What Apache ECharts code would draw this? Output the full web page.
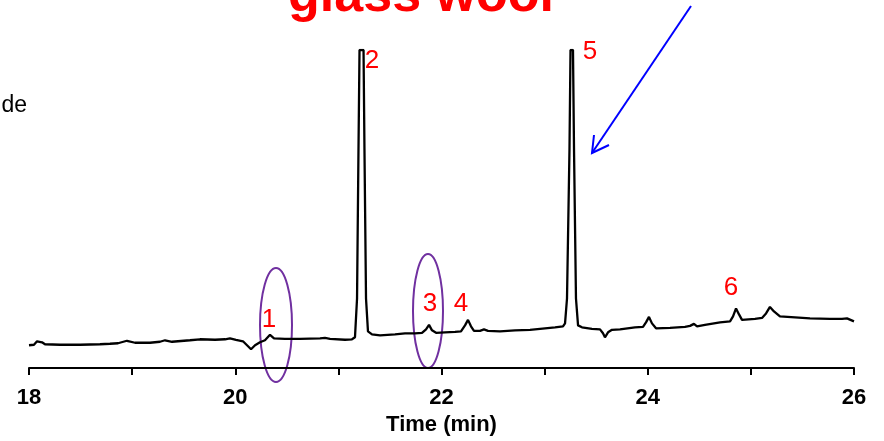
<!DOCTYPE html>
<html>
<head>
<meta charset="utf-8">
<title>glass wool chromatogram</title>
<script src="https://cdn.jsdelivr.net/npm/echarts@6/dist/echarts.min.js"></script>
<style>
  html, body { margin: 0; padding: 0; background: #fff; }
  #chart { width: 884px; height: 441px; }
</style>
</head>
<body>
<div id="chart"></div>
<script>
// retention time (min)
var times = [18.000, 18.048, 18.078, 18.097, 18.126, 18.155, 18.301, 18.495, 18.688, 18.785,
    18.863, 18.950, 19.028, 19.173, 19.270, 19.319, 19.387, 19.561, 19.658, 19.804,
    19.901, 19.949, 20.007, 20.075, 20.124, 20.153, 20.192, 20.240, 20.288, 20.337,
    20.376, 20.482, 20.628, 20.822, 20.870, 20.919, 21.064, 21.132, 21.161, 21.181,
    21.195, 21.205, 21.244, 21.253, 21.268, 21.287, 21.326, 21.404, 21.549, 21.646,
    21.743, 21.811, 21.850, 21.879, 21.908, 21.947, 22.034, 22.131, 22.189, 22.228,
    22.257, 22.286, 22.315, 22.373, 22.412, 22.451, 22.567, 22.713, 22.858, 23.004,
    23.101, 23.178, 23.198, 23.217, 23.241, 23.251, 23.275, 23.285, 23.304, 23.324,
    23.362, 23.459, 23.537, 23.566, 23.585, 23.615, 23.653, 23.731, 23.876, 23.954,
    23.983, 24.012, 24.041, 24.080, 24.216, 24.361, 24.410, 24.448, 24.478, 24.555,
    24.701, 24.798, 24.827, 24.856, 24.885, 24.914, 25.040, 25.108, 25.147, 25.185,
    25.224, 25.282, 25.428, 25.573, 25.767, 25.884, 25.932, 26.000];

// detector signal (arbitrary units, big peaks are off scale)
var signal = [23, 23.5, 27, 29, 26, 24, 23.5, 23.5, 24, 24.5,
    25, 27.5, 25.5, 25.5, 26.5, 28, 26.5, 28, 29, 28.5,
    29, 30, 28.5, 27, 22, 19, 23, 26, 28, 33.5,
    30, 29.5, 29.5, 30, 30.5, 29.5, 28.5, 29, 31, 70,
    220, 320, 320, 220, 70, 37, 34, 33, 34, 35,
    35, 35.5, 39, 43.5, 38, 35.5, 36, 36.5, 37, 43,
    48.5, 42, 37.5, 37.5, 39, 37.5, 37, 38, 38.5, 40,
    41, 42, 45, 70, 220, 320, 320, 220, 70, 43,
    41, 39.5, 39, 35, 31, 36, 38.5, 39, 41, 41.5,
    46, 51.5, 45, 40, 40.5, 41.5, 42.5, 44.5, 42, 43.5,
    46, 47, 52, 60, 54, 48.5, 49.5, 50.5, 55, 61.5,
    57, 52, 51, 50, 49.5, 49.5, 50, 47];

var peakLabels = ['1', '2', '3', '4', '5', '6'];

var fontFamily = '"Liberation Sans", Arial, Helvetica, sans-serif';

var chart = echarts.init(document.getElementById('chart'));

function redLabel(text, x, y) {
    return {
        type: 'text',
        x: x,
        y: y,
        style: {
            text: text,
            fill: '#ff0000',
            font: '26px ' + fontFamily,
            textAlign: 'center',
            textVerticalAlign: 'middle'
        }
    };
}

var option = {
    animation: false,
    backgroundColor: '#fff',
    grid: {
        left: 29,
        right: 30,
        top: 50,
        bottom: 71
    },
    xAxis: {
        type: 'value',
        min: 18,
        max: 26,
        interval: 1,
        name: 'Time (min)',
        nameLocation: 'middle',
        nameGap: 44,
        nameTextStyle: {
            color: '#000',
            fontSize: 22,
            fontWeight: 'bold',
            fontFamily: fontFamily
        },
        axisLine: {
            lineStyle: { color: '#000', width: 2 }
        },
        axisTick: {
            length: 7,
            lineStyle: { color: '#000', width: 2 }
        },
        axisLabel: {
            color: '#000',
            fontSize: 22,
            fontWeight: 'bold',
            fontFamily: fontFamily,
            margin: 19,
            formatter: function (v) {
                return v % 2 === 0 ? String(v) : '';
            }
        },
        splitLine: { show: false }
    },
    yAxis: {
        type: 'value',
        show: false,
        min: 0,
        max: 320
    },
    series: [{
        type: 'line',
        showSymbol: false,
        symbol: 'none',
        lineStyle: { color: '#000', width: 2.3 },
        data: times.map(function (t, i) {
            return [t, signal[i]];
        })
    }],
    graphic: [
        {
            type: 'text',
            x: 421,
            y: -3,
            style: {
                text: 'glass wool',
                fill: '#ff0000',
                font: 'bold 52px ' + fontFamily,
                textAlign: 'center',
                textVerticalAlign: 'middle'
            }
        },
        {
            type: 'text',
            x: 27,
            y: 106,
            style: {
                text: 'de',
                fill: '#000',
                font: '23px ' + fontFamily,
                textAlign: 'right',
                textVerticalAlign: 'middle'
            }
        },
        redLabel(peakLabels[0], 269, 320),
        redLabel(peakLabels[1], 372, 61),
        redLabel(peakLabels[2], 430, 304),
        redLabel(peakLabels[3], 461, 304),
        redLabel(peakLabels[4], 590, 52),
        redLabel(peakLabels[5], 731, 288),
        {
            type: 'ellipse',
            shape: { cx: 276, cy: 325, rx: 16, ry: 57 },
            style: { fill: null, stroke: '#7030a0', lineWidth: 2 }
        },
        {
            type: 'ellipse',
            shape: { cx: 428, cy: 311, rx: 15, ry: 57 },
            style: { fill: null, stroke: '#7030a0', lineWidth: 2 }
        },
        {
            type: 'polyline',
            shape: { points: [[691, 6], [592, 153]] },
            style: { stroke: '#0000ff', lineWidth: 2 }
        },
        {
            type: 'polyline',
            shape: { points: [[594, 135], [592, 153], [609, 145]] },
            style: { stroke: '#0000ff', lineWidth: 2, fill: null }
        }
    ]
};

chart.setOption(option);
</script>
</body>
</html>
